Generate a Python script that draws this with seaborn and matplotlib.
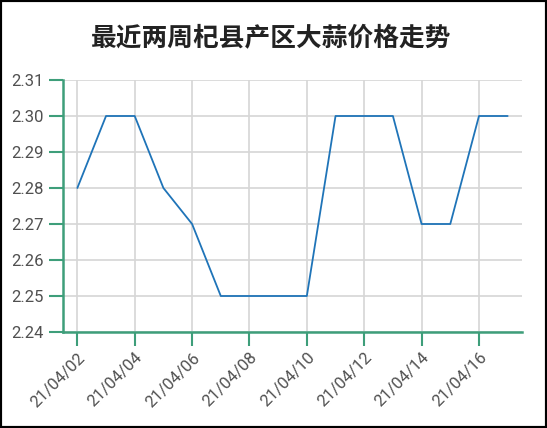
import numpy as np
import pandas as pd
import matplotlib
matplotlib.use('Agg')
import matplotlib.pyplot as plt
import matplotlib.dates as mdates
from matplotlib.patches import Rectangle
import seaborn as sns

# data
dates = ['2021-04-02', '2021-04-03', '2021-04-04', '2021-04-05', '2021-04-06',
         '2021-04-07', '2021-04-08', '2021-04-09', '2021-04-10', '2021-04-11',
         '2021-04-12', '2021-04-13', '2021-04-14', '2021-04-15', '2021-04-16',
         '2021-04-17']
prices = [2.28, 2.30, 2.30, 2.28, 2.27, 2.25, 2.25, 2.25, 2.25, 2.30,
          2.30, 2.30, 2.27, 2.27, 2.30, 2.30]
title = '最近两周杞县产区大蒜价格走势'

green = '#3e9e7a'
grid_col = '#d6d6d6'
text_col = '#505050'

sns.set_style('white')
plt.rcParams['font.family'] = ['Roboto', 'Noto Sans CJK SC', 'DejaVu Sans']

df = pd.DataFrame({'date': pd.to_datetime(dates), 'price': prices})

fig = plt.figure(figsize=(5.47, 4.28), dpi=100)
ax = fig.add_axes([63 / 547, 1 - 332 / 428, (522 - 63) / 547, (332 - 80) / 428])

sns.lineplot(data=df, x='date', y='price', ax=ax, color='#1f74b8', linewidth=1.3)

half = pd.Timedelta(hours=12)
ax.set_xlim(df['date'].iloc[0] - half, df['date'].iloc[-1] + half)
ax.set_ylim(2.24, 2.31)
ax.set_yticks(np.round(np.arange(2.24, 2.3101, 0.01), 2))
ax.yaxis.set_major_formatter(plt.FormatStrFormatter('%.2f'))
ax.set_xticks(df['date'].iloc[::2])
ax.xaxis.set_major_formatter(mdates.DateFormatter('%y/%m/%d'))

ax.grid(True, color=grid_col, linewidth=1.2)
ax.set_axisbelow(True)
for side in ['top', 'right']:
    ax.spines[side].set_visible(False)
for side in ['left', 'bottom']:
    ax.spines[side].set_color(green)
    ax.spines[side].set_linewidth(1.8)

ax.tick_params(axis='both', colors=green, width=1.5, length=10, direction='out',
               labelcolor=text_col, labelsize=12, bottom=True, left=True)
ax.tick_params(axis='y', pad=4)
ax.tick_params(axis='x', pad=3)
plt.setp(ax.get_xticklabels(), rotation=45, ha='right', rotation_mode='anchor')

ax.set_xlabel('')
ax.set_ylabel('')

fig.text(0.495, 0.912, title, ha='center', va='center', fontsize=18.5,
         fontweight='bold', color='#222222', family=['Noto Sans CJK SC', 'DejaVu Sans'])

# outer black frame
fig.patches.append(Rectangle((0, 0), 1, 1, transform=fig.transFigure, fill=False,
                             edgecolor='black', linewidth=3))

fig.savefig('out.png', dpi=100)
